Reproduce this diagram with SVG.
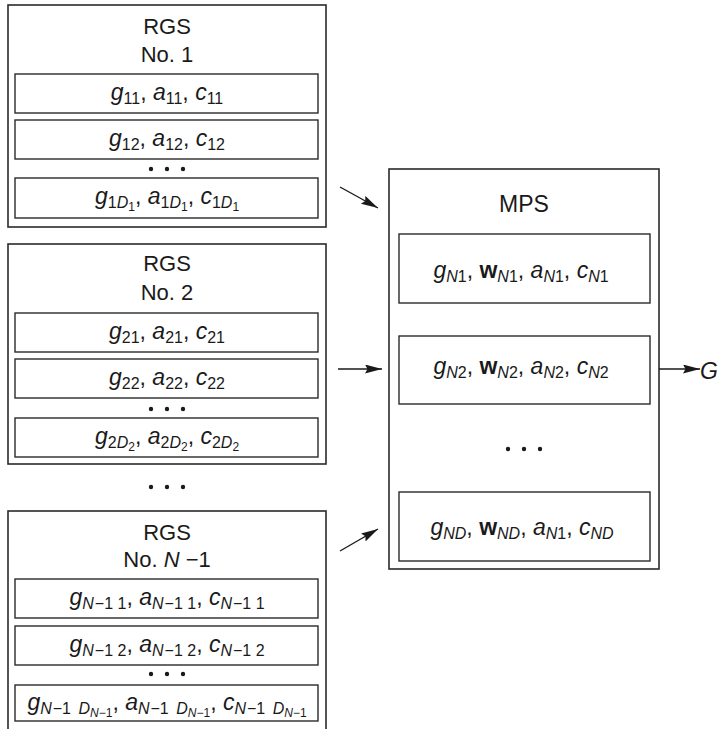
<svg xmlns="http://www.w3.org/2000/svg" width="724" height="729" viewBox="0 0 724 729">
  <style>
    .box { fill: #fff; stroke: #2a2a2a; stroke-width: 1.6; }
    .row { fill: #fff; stroke: #2a2a2a; stroke-width: 1.4; }
    .t { font-family: "Liberation Sans", Arial, sans-serif; fill: #1a1a1a; font-size: 23px; text-anchor: middle; }
    .h { font-size: 22px; }
    .i { font-style: italic; }
    .b { font-weight: bold; font-style: normal; }
    .s { font-size: 16px; }
    .ss { font-size: 12px; }
    .dot { fill: #1a1a1a; }
    .edge { stroke: #1a1a1a; stroke-width: 1.4; fill: none; marker-end: url(#arr); }
  </style>
  <defs>
    <marker id="arr" markerUnits="userSpaceOnUse" markerWidth="18" markerHeight="10" refX="17" refY="4.5" orient="auto">
      <path d="M0,0 L17,4.5 L0,9 L2.5,4.5 z" fill="#1a1a1a"/>
    </marker>
  </defs>
  <rect width="724" height="729" fill="#fff"/>

  <!-- register group 1 -->
  <g id="rgs1">
    <rect class="box" x="8" y="5" width="318" height="222"/>
    <text class="t h" x="167" y="34">RGS</text>
    <text class="t h" x="167" y="62">No. 1</text>
    <rect class="row" x="15" y="74" width="303" height="39"/>
    <text class="t i" x="167" y="100">g<tspan class="s" font-style="normal" dy="4">11</tspan><tspan font-style="normal" dy="-4">, </tspan>a<tspan class="s" font-style="normal" dy="4">11</tspan><tspan font-style="normal" dy="-4">, </tspan>c<tspan class="s" font-style="normal" dy="4">11</tspan></text>
    <rect class="row" x="15" y="120" width="303" height="39"/>
    <text class="t i" x="167" y="146">g<tspan class="s" font-style="normal" dy="4">12</tspan><tspan font-style="normal" dy="-4">, </tspan>a<tspan class="s" font-style="normal" dy="4">12</tspan><tspan font-style="normal" dy="-4">, </tspan>c<tspan class="s" font-style="normal" dy="4">12</tspan></text>
    <circle class="dot" cx="151" cy="169" r="2.2"/><circle class="dot" cx="167" cy="169" r="2.2"/><circle class="dot" cx="183" cy="169" r="2.2"/>
    <rect class="row" x="15" y="178" width="303" height="40"/>
    <text class="t i" x="167" y="204">g<tspan class="s" font-style="normal" dy="4">1</tspan><tspan class="s">D</tspan><tspan class="ss" font-style="normal" dy="3">1</tspan><tspan font-style="normal" dy="-7">, </tspan>a<tspan class="s" font-style="normal" dy="4">1</tspan><tspan class="s">D</tspan><tspan class="ss" font-style="normal" dy="3">1</tspan><tspan font-style="normal" dy="-7">, </tspan>c<tspan class="s" font-style="normal" dy="4">1</tspan><tspan class="s">D</tspan><tspan class="ss" font-style="normal" dy="3">1</tspan></text>
  </g>

  <!-- register group 2 -->
  <g id="rgs2">
    <rect class="box" x="8" y="244" width="318" height="220"/>
    <text class="t h" x="167" y="271">RGS</text>
    <text class="t h" x="167" y="300">No. 2</text>
    <rect class="row" x="15" y="313" width="303" height="39"/>
    <text class="t i" x="167" y="339">g<tspan class="s" font-style="normal" dy="4">21</tspan><tspan font-style="normal" dy="-4">, </tspan>a<tspan class="s" font-style="normal" dy="4">21</tspan><tspan font-style="normal" dy="-4">, </tspan>c<tspan class="s" font-style="normal" dy="4">21</tspan></text>
    <rect class="row" x="15" y="359" width="303" height="39"/>
    <text class="t i" x="167" y="385">g<tspan class="s" font-style="normal" dy="4">22</tspan><tspan font-style="normal" dy="-4">, </tspan>a<tspan class="s" font-style="normal" dy="4">22</tspan><tspan font-style="normal" dy="-4">, </tspan>c<tspan class="s" font-style="normal" dy="4">22</tspan></text>
    <circle class="dot" cx="151" cy="409" r="2.2"/><circle class="dot" cx="167" cy="409" r="2.2"/><circle class="dot" cx="183" cy="409" r="2.2"/>
    <rect class="row" x="15" y="418" width="303" height="39"/>
    <text class="t i" x="167" y="444">g<tspan class="s" font-style="normal" dy="4">2</tspan><tspan class="s">D</tspan><tspan class="ss" font-style="normal" dy="3">2</tspan><tspan font-style="normal" dy="-7">, </tspan>a<tspan class="s" font-style="normal" dy="4">2</tspan><tspan class="s">D</tspan><tspan class="ss" font-style="normal" dy="3">2</tspan><tspan font-style="normal" dy="-7">, </tspan>c<tspan class="s" font-style="normal" dy="4">2</tspan><tspan class="s">D</tspan><tspan class="ss" font-style="normal" dy="3">2</tspan></text>
  </g>

  <!-- ellipsis between groups -->
  <g id="gap-dots">
    <circle class="dot" cx="151" cy="487" r="2.2"/><circle class="dot" cx="167" cy="487" r="2.2"/><circle class="dot" cx="183" cy="487" r="2.2"/>
  </g>

  <!-- register group N-1 (runs past the lower edge) -->
  <g id="rgsN1">
    <rect class="box" x="8" y="511" width="318" height="240"/>
    <text class="t h" x="167" y="540">RGS</text>
    <text class="t h" x="167" y="567">No. <tspan class="i">N</tspan> −1</text>
    <rect class="row" x="15" y="579" width="303" height="39"/>
    <text class="t i" x="167" y="605">g<tspan class="s" dy="4">N</tspan><tspan class="s" font-style="normal" dx="1">−1 1</tspan><tspan font-style="normal" dy="-4">, </tspan>a<tspan class="s" dy="4">N</tspan><tspan class="s" font-style="normal" dx="1">−1 1</tspan><tspan font-style="normal" dy="-4">, </tspan>c<tspan class="s" dy="4">N</tspan><tspan class="s" font-style="normal" dx="1">−1 1</tspan></text>
    <rect class="row" x="15" y="626" width="303" height="39"/>
    <text class="t i" x="167" y="652">g<tspan class="s" dy="4">N</tspan><tspan class="s" font-style="normal" dx="1">−1 2</tspan><tspan font-style="normal" dy="-4">, </tspan>a<tspan class="s" dy="4">N</tspan><tspan class="s" font-style="normal" dx="1">−1 2</tspan><tspan font-style="normal" dy="-4">, </tspan>c<tspan class="s" dy="4">N</tspan><tspan class="s" font-style="normal" dx="1">−1 2</tspan></text>
    <circle class="dot" cx="151" cy="674" r="2.2"/><circle class="dot" cx="167" cy="674" r="2.2"/><circle class="dot" cx="183" cy="674" r="2.2"/>
    <rect class="row" x="15" y="685" width="303" height="36"/>
    <text class="t i" x="167" y="710">g<tspan class="s" dy="4">N</tspan><tspan class="s" font-style="normal" dx="1">−1 </tspan><tspan class="s" dx="3">D</tspan><tspan class="ss" dy="3">N</tspan><tspan class="ss" font-style="normal">−1</tspan><tspan font-style="normal" dy="-7">, </tspan>a<tspan class="s" dy="4">N</tspan><tspan class="s" font-style="normal" dx="1">−1 </tspan><tspan class="s" dx="3">D</tspan><tspan class="ss" dy="3">N</tspan><tspan class="ss" font-style="normal">−1</tspan><tspan font-style="normal" dy="-7">, </tspan>c<tspan class="s" dy="4">N</tspan><tspan class="s" font-style="normal" dx="1">−1 </tspan><tspan class="s" dx="3">D</tspan><tspan class="ss" dy="3">N</tspan><tspan class="ss" font-style="normal">−1</tspan></text>
  </g>

  <!-- master parameter set -->
  <g id="mps">
    <rect class="box" x="389" y="169" width="270" height="400"/>
    <text class="t" x="524" y="212">MPS</text>
    <rect class="row" x="399" y="234" width="251" height="69"/>
    <text class="t i" x="521" y="278">g<tspan class="s" dy="4">N</tspan><tspan class="s" font-style="normal">1</tspan><tspan font-style="normal" dy="-4">, </tspan><tspan class="b">w</tspan><tspan class="s" dy="4">N</tspan><tspan class="s" font-style="normal">1</tspan><tspan font-style="normal" dy="-4">, </tspan>a<tspan class="s" dy="4">N</tspan><tspan class="s" font-style="normal">1</tspan><tspan font-style="normal" dy="-4">, </tspan>c<tspan class="s" dy="4">N</tspan><tspan class="s" font-style="normal">1</tspan></text>
    <rect class="row" x="399" y="336" width="251" height="68"/>
    <text class="t i" x="521" y="374">g<tspan class="s" dy="4">N</tspan><tspan class="s" font-style="normal">2</tspan><tspan font-style="normal" dy="-4">, </tspan><tspan class="b">w</tspan><tspan class="s" dy="4">N</tspan><tspan class="s" font-style="normal">2</tspan><tspan font-style="normal" dy="-4">, </tspan>a<tspan class="s" dy="4">N</tspan><tspan class="s" font-style="normal">2</tspan><tspan font-style="normal" dy="-4">, </tspan>c<tspan class="s" dy="4">N</tspan><tspan class="s" font-style="normal">2</tspan></text>
    <circle class="dot" cx="508" cy="449" r="2.2"/><circle class="dot" cx="524" cy="449" r="2.2"/><circle class="dot" cx="540" cy="449" r="2.2"/>
    <rect class="row" x="399" y="492" width="251" height="69"/>
    <text class="t i" x="522" y="535">g<tspan class="s" dy="4">ND</tspan><tspan font-style="normal" dy="-4">, </tspan><tspan class="b">w</tspan><tspan class="s" dy="4">ND</tspan><tspan font-style="normal" dy="-4">, </tspan>a<tspan class="s" dy="4">N</tspan><tspan class="s" font-style="normal">1</tspan><tspan font-style="normal" dy="-4">, </tspan>c<tspan class="s" dy="4">ND</tspan></text>
  </g>

  <!-- output label -->
  <g id="out">
    <text class="t i" x="709" y="379" text-anchor="start">G</text>
  </g>

  <!-- connectors -->
  <g id="connectors">
    <line class="edge" x1="340" y1="187" x2="378" y2="208"/>
    <line class="edge" x1="338" y1="369" x2="382" y2="369"/>
    <line class="edge" x1="340" y1="551" x2="378" y2="529"/>
    <line class="edge" x1="659" y1="369" x2="700" y2="369"/>
  </g>
</svg>
